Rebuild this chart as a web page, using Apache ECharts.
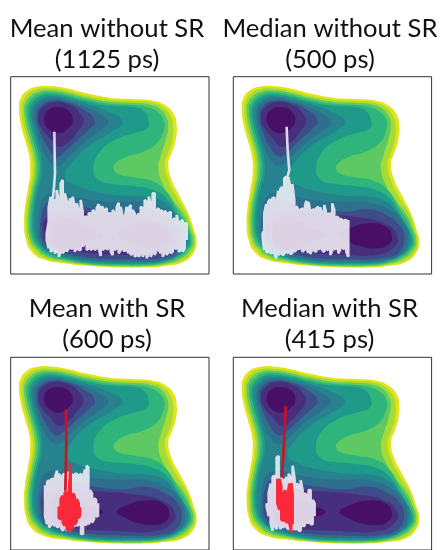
<!DOCTYPE html>
<html><head><meta charset="utf-8">
<style>html,body{margin:0;padding:0;background:#fff}#c{width:440px;height:550px;filter:blur(0.4px)}</style>
<script src="https://cdn.jsdelivr.net/npm/echarts@6/dist/echarts.min.js"></script>
</head><body><div id="c"></div>
<script>
const titles = ["Mean without SR\n(1125 ps)","Median without SR\n(500 ps)","Mean with SR\n(600 ps)","Median with SR\n(415 ps)"];
const bandColors = ["#e2e31b","#a5db36","#5ec962","#2fb47c","#1f9a8a","#26828e","#2f6f8e","#3e4c8a","#472f7d","#470f66"];

const level0 = [[[57,320],[62,295],[80,272],[110,260],[150,258],[200,265],[260,280],[330,293],[400,297],[460,302],[495,315],[520,340],[530,375],[527,420],[515,460],[505,490],[515,540],[540,590],[565,640],[582,690],[590,725],[580,760],[552,785],[500,797],[430,802],[350,802],[270,798],[190,790],[130,778],[95,755],[78,720],[72,670],[75,620],[83,570],[90,520],[88,470],[75,420],[62,370]]];
const level1 = [[[65,322],[71,300],[87,279],[113,267],[150,265],[200,272],[260,287],[330,299],[400,303],[455,308],[488,321],[510,345],[519,375],[517,420],[505,460],[495,490],[505,540],[530,592],[560,642],[577,690],[585,725],[575,757],[548,781],[498,794],[430,800],[350,800],[270,796],[190,786],[134,774],[102,750],[84,718],[78,670],[81,620],[90,570],[98,520],[96,470],[83,420],[70,370]]];
const level2 = [[[72,325],[78,305],[94,286],[118,274],[150,271],[200,278],[260,293],[330,305],[400,309],[450,314],[482,328],[498,350],[505,375],[497,420],[483,465],[475,505],[490,555],[518,600],[552,645],[572,690],[581,725],[570,752],[542,776],[496,791],[430,798],[350,798],[270,794],[190,782],[138,769],[108,745],[90,716],[84,670],[87,620],[96,570],[105,520],[103,470],[90,420],[77,370]]];
const level3 = [[[79,328],[85,310],[100,292],[122,280],[150,277],[200,284],[260,299],[330,311],[400,315],[445,322],[475,338],[492,362],[490,395],[470,430],[430,455],[380,470],[350,487],[340,505],[355,522],[400,532],[460,545],[500,575],[530,625],[560,675],[575,725],[565,748],[538,772],[494,788],[430,795],[350,795],[270,791],[190,778],[142,764],[113,741],[96,714],[90,670],[93,620],[102,570],[112,520],[110,470],[97,420],[84,370]]];
const level4 = [[[86,332],[92,315],[106,298],[127,286],[150,283],[200,290],[260,305],[330,317],[400,321],[430,332],[445,360],[442,385],[400,400],[345,420],[300,455],[280,505],[295,540],[340,552],[400,558],[460,570],[500,595],[530,640],[555,685],[570,720],[561,745],[534,768],[492,785],[430,792],[350,792],[270,788],[190,774],[146,759],[118,737],[102,712],[96,670],[99,620],[108,570],[119,520],[117,470],[104,420],[91,370]]];
const level5 = [[[93,335],[99,320],[112,304],[132,293],[155,289],[200,296],[260,311],[320,333],[368,365],[335,395],[270,435],[215,490],[195,530],[225,555],[290,575],[380,588],[440,590],[490,605],[525,640],[550,675],[563,708],[555,745],[530,766],[490,782],[430,788],[350,788],[270,784],[190,770],[150,754],[123,732],[108,708],[102,670],[105,620],[114,570],[126,520],[124,470],[111,420],[98,370]]];
const level6 = [
  [[102,340],[114,312],[150,296],[200,302],[255,320],[300,342],[325,365],[300,392],[255,425],[205,470],[172,497],[145,480],[125,440],[110,395]],
  [[114,704],[117,640],[130,595],[160,578],[220,590],[300,603],[380,606],[440,608],[510,635],[540,670],[555,708],[542,755],[490,780],[370,784],[270,780],[190,765],[140,750],[120,730]]
];
const level7 = [
  [[110,345],[123,317],[155,302],[200,307],[250,328],[285,362],[268,388],[235,418],[195,455],[170,470],[145,445],[120,395]],
  [[122,700],[126,640],[150,605],[210,612],[270,625],[370,635],[440,628],[500,650],[530,675],[545,710],[530,755],[480,775],[370,778],[270,773],[190,758],[145,742],[128,725]]
];
const level8 = [
  [[115,350],[128,322],[165,306],[212,316],[240,340],[250,365],[232,395],[200,430],[175,440],[150,415],[125,385]],
  [[130,695],[140,650],[190,632],[270,640],[390,650],[485,670],[525,710],[510,745],[460,765],[370,765],[270,760],[190,748],[145,732]]
];
const level9 = [
  [[132,352],[145,330],[175,322],[205,332],[218,360],[205,385],[175,400],[150,390],[135,372]],
  [[350,705],[380,685],[440,670],[490,680],[508,710],[495,735],[460,745],[410,738],[375,722]],
  [[150,695],[175,655],[225,662],[270,685],[308,705],[265,725],[220,742],[170,745]]
];
const levels = [level0,level1,level2,level3,level4,level5,level6,level7,level8,level9];

const tailMeanNoSR = [[163,395],[164,470],[165,520],[162,560],[158,600]];
const tailMedianNoSR = [[192,380],[195,450],[200,510],[192,540],[192,570]];
const tailMeanSR = [[198,390],[199,500],[196,640]];
const tailMedianSR = [[189,380],[184,500],[178,600]];

const colsMeanNoSR = [[140,700,720],[146,620,745],[152,590,755],[158,600,750],[164,600,760],[170,570,755],[176,600,770],[182,550,755],[188,540,760],[194,580,750],[200,600,755],[206,610,745],[212,595,745],[218,590,745],[224,620,755],[230,610,745],[236,630,750],[242,600,750],[248,635,740],[254,650,730],[260,650,750],[266,640,745],[272,640,750],[278,630,745],[284,635,750],[290,625,745],[296,612,745],[302,620,768],[308,622,750],[314,630,745],[320,625,748],[326,640,745],[332,640,755],[338,630,765],[344,640,750],[350,622,745],[356,608,760],[362,620,750],[368,650,745],[374,655,755],[380,620,748],[386,625,760],[392,615,765],[398,630,760],[404,640,770],[410,650,765],[416,640,770],[422,620,762],[428,625,770],[434,600,760],[440,605,775],[446,590,760],[452,610,770],[458,580,755],[464,580,765],[470,630,750],[476,625,748],[482,630,760],[488,635,770],[494,632,755],[500,640,765],[506,640,755],[512,635,760],[518,660,755],[524,655,745],[530,645,745],[536,670,755],[542,665,750],[548,660,755],[554,670,745],[560,670,720]];
const colsMedianNoSR = [[120,700,715],[125,640,750],[131,612,755],[137,605,757],[143,598,760],[149,595,758],[155,592,760],[161,612,775],[167,572,765],[173,568,760],[179,560,765],[185,535,762],[191,530,755],[197,532,760],[203,560,762],[209,552,760],[215,600,755],[221,618,750],[227,628,748],[233,630,745],[239,625,755],[245,628,750],[251,602,745],[257,605,758],[263,632,762],[269,630,748],[275,628,752],[281,625,756],[287,620,748],[293,622,745],[299,640,750],[305,615,756],[311,640,748],[317,642,750],[323,640,765],[329,610,752],[335,630,748],[341,650,746],[347,652,760],[353,656,748],[359,660,742],[365,660,748],[371,660,755],[377,660,770]];
const colsMeanSR = [[135,623,718],[141,613,743],[147,608,753],[153,605,745],[159,603,743],[165,598,748],[171,578,753],[177,588,748],[183,598,753],[189,590,763],[195,588,753],[201,590,763],[207,583,763],[213,593,753],[219,590,748],[225,588,748],[231,588,748],[237,593,743],[243,588,773],[249,598,773],[255,575,745],[260,563,743],[265,568,743],[270,638,733],[276,648,738],[282,663,728],[288,668,718],[294,678,718]];
const colsMedianSR = [[132,678,688],[138,648,718],[144,618,738],[150,598,763],[156,593,748],[162,538,758],[168,533,743],[174,598,758],[180,608,753],[186,608,748],[192,598,753],[198,588,758],[204,598,763],[210,563,758],[216,603,758],[222,618,758],[228,623,763],[234,608,763],[240,638,748],[246,648,748],[252,653,738],[258,638,738],[264,638,743],[270,668,743],[276,678,718]];
const redMeanSR = [[176,688,723],[182,665,728],[188,655,738],[194,645,748],[200,645,758],[206,645,763],[212,556,763],[218,648,755],[224,655,745],[230,665,735],[236,678,725],[240,690,715]];
const redMedianSR = [[164,603,678],[170,603,698],[176,623,728],[182,648,733],[188,638,733],[194,658,738],[200,618,738],[206,616,768],[210,648,743]];

const gridPos = [[10.7,76.7],[233.3,76.7],[10.7,357.3],[233.3,357.3]];
const titleCenter = [[107,13],[330,13],[107,293],[329.5,293]];
const tails = [tailMeanNoSR,tailMedianNoSR,null,null];
const whites = [colsMeanNoSR,colsMedianNoSR,colsMeanSR,colsMedianSR];
const reds = [null,null,redMeanSR,redMedianSR];
const redTails = [null,null,tailMeanSR,tailMedianSR];

function sweep(cols){
  const out=[];
  cols.forEach((c,i)=>{ if(i%2===0){out.push([c[0],c[1]],[c[0],c[2]]);} else {out.push([c[0],c[2]],[c[0],c[1]]);} });
  return out;
}
function trace(k,points,z,style){
  return {type:'custom',xAxisIndex:k,yAxisIndex:k,coordinateSystem:'cartesian2d',silent:true,animation:false,z:z,clip:true,
    data:points,encode:{x:0,y:1},
    renderItem:(params,api)=>{
      if(params.dataIndex!==0) return null;
      return {type:'polyline',shape:{points:points.map(q=>api.coord(q))},
        style:Object.assign({fill:null,lineJoin:'bevel',lineCap:'butt'},style)};
    }};
}
const grid=[],xAxis=[],yAxis=[],series=[],title=[];
gridPos.forEach((p,k)=>{
  grid.push({left:p[0],top:p[1],width:198.3,height:197.3,show:true,borderColor:'#333',borderWidth:1,backgroundColor:'#fff',containLabel:false});
  xAxis.push({type:'value',gridIndex:k,min:32,max:627,show:false});
  yAxis.push({type:'value',gridIndex:k,min:230,max:822,inverse:true,show:false});
  title.push({text:titles[k],left:titleCenter[k][0],top:titleCenter[k][1],textAlign:'center',padding:0,
    textStyle:{fontFamily:'Lato',fontWeight:'normal',fontSize:25.6,lineHeight:31,color:'#111'}});
  series.push({type:'custom',xAxisIndex:k,yAxisIndex:k,coordinateSystem:'cartesian2d',silent:true,animation:false,z:1,clip:true,
    data:levels.map((l,i)=>[i]),
    renderItem:(params,api)=>{
      const i=params.dataIndex;
      return {type:'group',children:levels[i].map(poly=>({
        type:'polygon',
        shape:{points:poly.map(q=>api.coord(q)),smooth:0.5},
        style:{fill:bandColors[i],stroke:null}
      }))};
    }});
  const path = (tails[k] || []).concat(sweep(whites[k]));
  series.push(trace(k,path,2,{stroke:'#f4f2f8',lineWidth:2.6,opacity:0.86}));
  if(reds[k]){
    series.push(trace(k,redTails[k],3,{stroke:'#d3101f',lineWidth:2.8,opacity:0.95}));
    series.push(trace(k,sweep(reds[k]),4,{stroke:'#fb2233',lineWidth:2.6,opacity:0.97}));
  }
});
const chart=echarts.init(document.getElementById('c'),null,{renderer:'canvas'});
chart.setOption({animation:false,backgroundColor:'#fff',title,grid,xAxis,yAxis,series,tooltip:{show:false},legend:{show:false}});
</script></body></html>
